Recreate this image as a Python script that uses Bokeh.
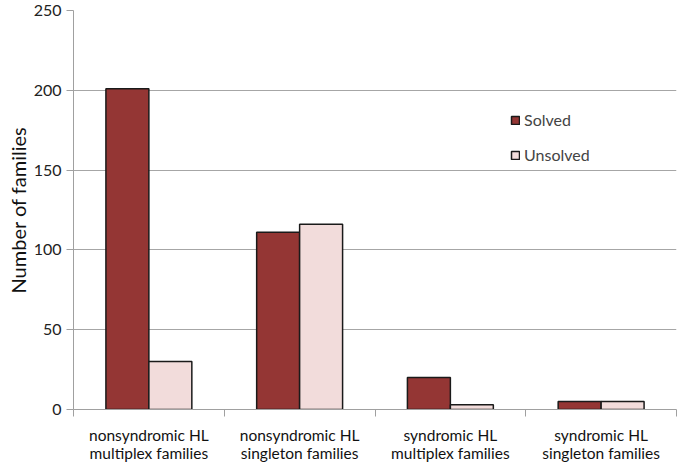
from bokeh.plotting import figure
from bokeh.models import ColumnDataSource, FixedTicker, Legend, LegendItem, Range1d
from bokeh.embed import file_html
from bokeh.resources import INLINE

categories = ["nonsyndromic HL\nmultiplex families", "nonsyndromic HL\nsingleton families",
              "syndromic HL\nmultiplex families", "syndromic HL\nsingleton families"]
solved = [201, 111, 20, 5]
unsolved = [30, 116, 3, 5]
y_ticks = [0, 50, 100, 150, 200, 250]

FONT = "Lato"
BAR_W = 0.285

idx = list(range(len(categories)))
src = ColumnDataSource(dict(
    xs=[i + 0.5 - BAR_W / 2 for i in idx],
    xu=[i + 0.5 + BAR_W / 2 for i in idx],
    solved=solved, unsolved=unsolved))

p = figure(width=677, height=465, output_backend="svg", toolbar_location=None,
           x_range=Range1d(0, len(categories)), y_range=Range1d(0, 250),
           min_border_left=73, min_border_right=1, min_border_top=10, min_border_bottom=55)
p.outline_line_color = None

rs = p.vbar(x="xs", top="solved", width=BAR_W, source=src,
            fill_color="#943634", line_color="#1a1a1a", line_width=1.5)
ru = p.vbar(x="xu", top="unsolved", width=BAR_W, source=src,
            fill_color="#F2DCDB", line_color="#1a1a1a", line_width=1.5)

# y axis
ya = p.yaxis[0]
ya.ticker = FixedTicker(ticks=y_ticks)
ya.axis_line_color = "#a0a0a0"
ya.major_tick_line_color = "#a0a0a0"
ya.major_tick_out = 7
ya.major_tick_in = 0
ya.minor_tick_line_color = None
ya.major_label_standoff = 5
ya.major_label_text_font = FONT
ya.major_label_text_font_size = "16px"
ya.major_label_text_color = "#222222"
ya.axis_label = "Number of families"
ya.axis_label_text_font = FONT
ya.axis_label_text_font_size = "20px"
ya.axis_label_text_font_style = "normal"
ya.axis_label_text_color = "#111111"
ya.axis_label_standoff = 1

p.ygrid.ticker = FixedTicker(ticks=y_ticks)
p.ygrid.grid_line_color = "#a6a6a6"
p.xgrid.grid_line_color = None

# x axis: labels at category centres, ticks at category boundaries (minor ticks)
xa = p.xaxis[0]
xa.ticker = FixedTicker(ticks=[i + 0.5 for i in idx],
                        minor_ticks=list(range(len(categories) + 1)))
xa.major_label_overrides = {i + 0.5: c for i, c in zip(idx, categories)}
xa.axis_line_color = "#a0a0a0"
xa.major_tick_line_color = None
xa.minor_tick_line_color = "#a0a0a0"
xa.minor_tick_out = 7
xa.minor_tick_in = 0
xa.major_label_standoff = 9
xa.major_label_text_font = FONT
xa.major_label_text_font_size = "15.5px"
xa.major_label_text_color = "#111111"
xa.major_label_text_line_height = 1.05

legend = Legend(items=[LegendItem(label="Solved", renderers=[rs]),
                       LegendItem(label="Unsolved", renderers=[ru])],
                location=(437, 245), orientation="vertical")
legend.background_fill_alpha = 0
legend.border_line_color = None
legend.glyph_width = 10
legend.glyph_height = 10
legend.label_text_font = FONT
legend.label_text_font_size = "16px"
legend.label_standoff = 4
legend.spacing = 16
legend.padding = 5
p.add_layout(legend, "center")

open("out.html", "w").write(file_html(p, INLINE))
